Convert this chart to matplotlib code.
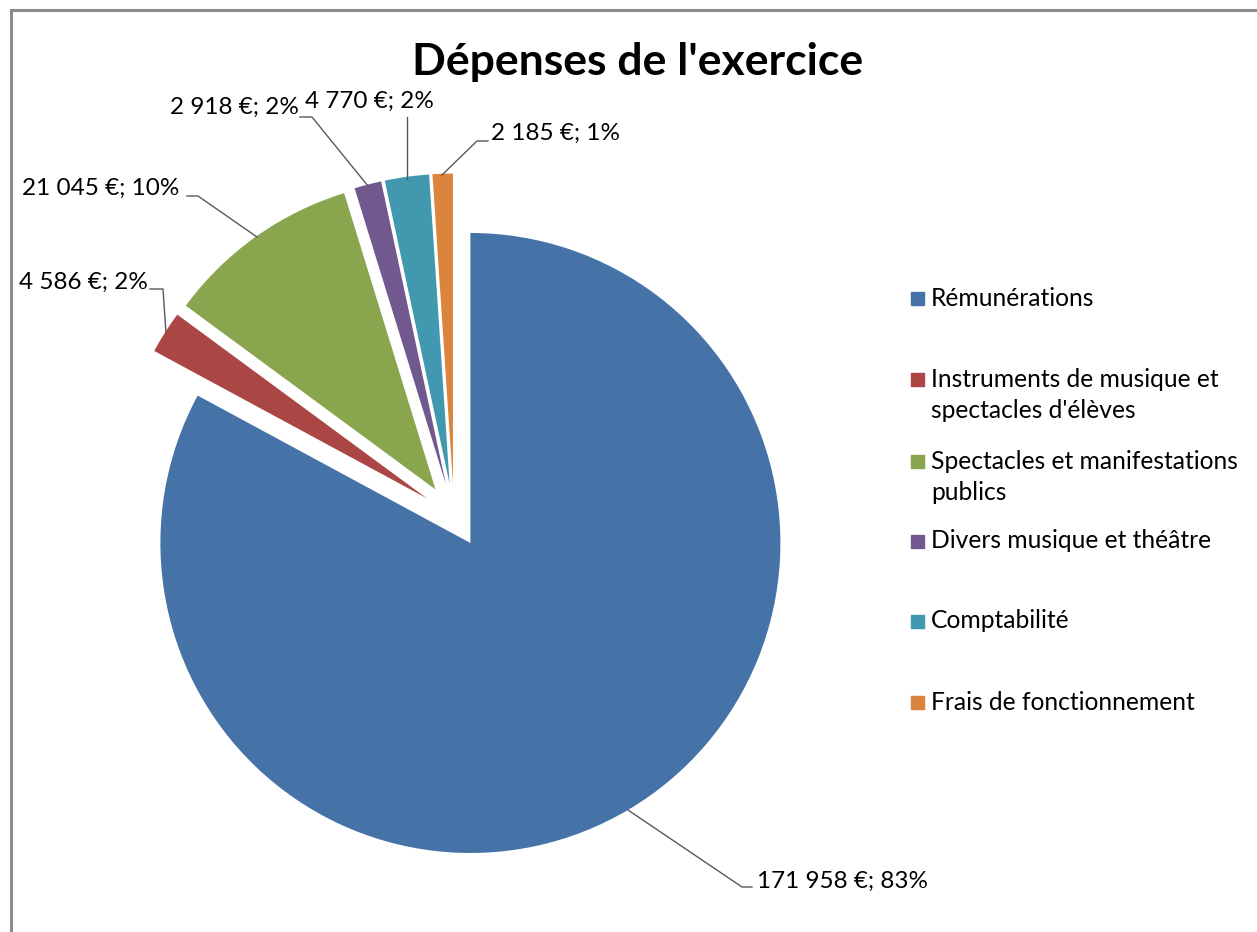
import matplotlib
matplotlib.use("Agg")
import matplotlib.pyplot as plt
from matplotlib.patches import Rectangle

# data
categories = ["Rémunérations",
              "Instruments de musique et\nspectacles d'élèves",
              "Spectacles et manifestations\npublics",
              "Divers musique et théâtre",
              "Comptabilité",
              "Frais de fonctionnement"]
values = [171958, 4586, 21045, 2918, 4770, 2185]
percents = [83, 2, 10, 2, 2, 1]
colors = ["#4572A7", "#AA4643", "#89A54E", "#71588F", "#4198AF", "#DB843D"]

W, H = 1257, 932
FONT = "Lato"

# label text anchor (left x, centre y in screen px) and leader line points
label_pos = [(757, 881), (19, 282), (22, 188), (170, 107), (305, 101), (491, 133)]
leaders = [
    [(628, 810), (742, 887), (752, 887)],
    [(166, 333), (163, 289), (150, 289)],
    [(257, 237), (198, 196), (187, 196)],
    [(368, 186), (312, 117), (300, 117)],
    [(407, 179), (407, 117)],
    [(442, 175), (477, 141), (488, 141)],
]
legend_y = [298, 395, 477, 541, 621, 702]


def fmt(v, p):
    return "{:,}".format(v).replace(",", " ") + " €; " + str(p) + "%"


fig = plt.figure(figsize=(W / 100, H / 100), dpi=100)
ax = fig.add_axes([0, 0, 1, 1])

# explode is in data units here (pixels), every slice pulled out the same
ax.pie(values, colors=colors, startangle=90, counterclock=False,
       radius=310, center=(454, H - 515.5), explode=[32] * len(values),
       wedgeprops=dict(linewidth=0), frame=False)
ax.set_xlim(0, W)
ax.set_ylim(0, H)
ax.set_aspect("equal")
ax.axis("off")

# data labels with leader lines
for v, p, (x, y), pts in zip(values, percents, label_pos, leaders):
    ax.plot([a for a, b in pts], [H - b for a, b in pts], color="#595959", lw=1.0)
    ax.text(x, H - y, fmt(v, p), fontsize=17.5, family=FONT, color="#000000",
            ha="left", va="center")

# legend drawn by hand to keep Excel spacing
for name, c, y in zip(categories, colors, legend_y):
    nlines = name.count("\n") + 1
    top = y - (nlines - 1) * 15.5
    ax.add_patch(Rectangle((911, H - top - 6.5), 13, 13, color=c))
    ax.text(931, H - y, name, fontsize=17.7, family=FONT, ha="left",
            va="center", linespacing=1.45)

ax.text(638, H - 62, "Dépenses de l'exercice", fontsize=32, fontweight="bold",
        family=FONT, ha="center", va="center")

# chart frame (only top and left visible)
ax.plot([11, 11, W], [0, H - 10, H - 10], color="#8c8c8c", lw=2.2,
        solid_joinstyle="miter")

fig.savefig("out.png", dpi=100)
